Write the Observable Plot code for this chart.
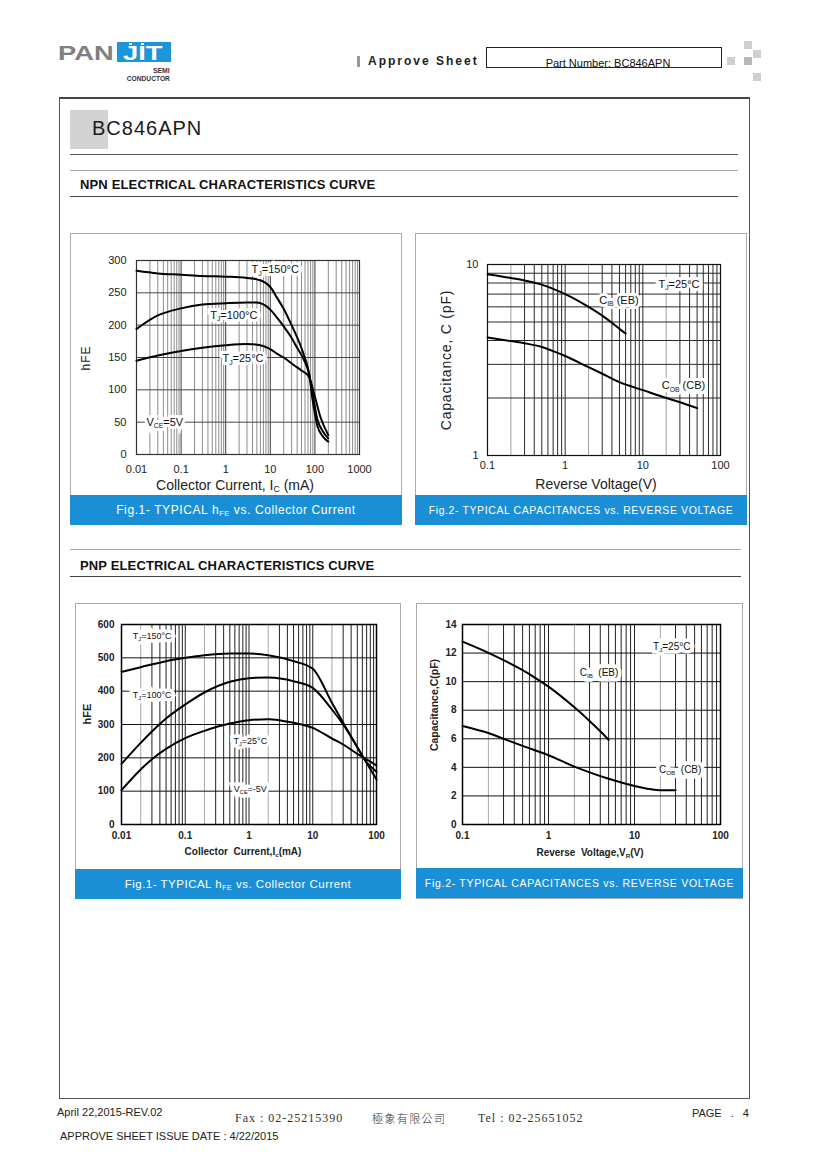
<!DOCTYPE html>
<html><head><meta charset="utf-8">
<script src="https://cdn.jsdelivr.net/npm/d3@7"></script>
<script src="https://cdn.jsdelivr.net/npm/@observablehq/plot@0.6"></script>
<style>
body{margin:0;background:#fff;}
#page{position:relative;width:820px;height:1160px;background:#fff;overflow:hidden;font-family:"Liberation Sans",Arial,sans-serif;color:#222;}
.abs{position:absolute;white-space:nowrap;}
.c{transform:translate(-50%,-50%);line-height:1;}
.r{transform:translate(-50%,-50%) rotate(-90deg);line-height:1;}
.hl{position:absolute;height:0;}
.panel{position:absolute;border:1.5px solid #a9a9a9;box-sizing:border-box;background:#fff;}
.band{position:absolute;background:#1b8fd6;color:#fff;display:flex;align-items:center;justify-content:center;white-space:nowrap;}
sub{font-size:62%;vertical-align:-0.25em;line-height:0;}
.sq{position:absolute;width:8px;height:8px;background:#cfcfcf;}
</style></head>
<body><div id="page">
  <!-- logo -->
  <div class="abs" style="left:58px;top:41px;font-size:21px;font-weight:bold;color:#808080;line-height:24px;transform:scaleX(1.3);transform-origin:0 0;">PAN</div>
  <div class="abs" style="left:117px;top:42px;width:54px;height:20px;background:#1b96d8;"></div>
  <div class="abs" style="left:123px;top:40.5px;font-size:19.5px;font-weight:bold;color:#fff;line-height:24px;transform:scaleX(1.4);transform-origin:0 0;">JIT</div>
  <div class="abs" style="left:129px;top:42.5px;width:3px;height:2.5px;background:#fff;"></div>
  <div class="abs" style="left:141px;top:42.5px;width:3px;height:2.5px;background:#fff;"></div>
  <div class="abs" style="right:650px;top:66px;font-size:8px;font-weight:bold;color:#333;line-height:10px;transform:scaleX(0.85);transform-origin:100% 0;">SEMI</div>
  <div class="abs" style="right:650px;top:74px;font-size:8px;font-weight:bold;color:#333;line-height:10px;transform:scaleX(0.83);transform-origin:100% 0;">CONDUCTOR</div>
  <!-- approve sheet -->
  <div class="abs" style="left:357px;top:56px;width:3px;height:11px;background:#9a9a9a;"></div>
  <div class="abs" style="left:368px;top:54px;font-size:12px;font-weight:bold;letter-spacing:2px;line-height:14px;color:#222;">Approve Sheet</div>
  <div class="abs" style="left:486px;top:47px;width:236px;height:21px;border:1px solid #222;box-sizing:border-box;"></div>
  <div class="abs c" style="left:608px;top:63px;font-size:11px;color:#111;">Part Number: BC846APN</div>
  <div class="sq" style="left:744px;top:41px;"></div>
  <div class="sq" style="left:727px;top:57px;"></div>
  <div class="sq" style="left:744px;top:57px;background:#b8b8b8;"></div>
  <div class="sq" style="left:753px;top:50px;"></div>
  <div class="sq" style="left:753px;top:73px;"></div>
  <!-- frame -->
  <div class="abs" style="left:59px;top:97px;width:691px;height:1002px;border:1.5px solid #555;border-top:2px solid #444;box-sizing:border-box;"></div>
  <div class="abs" style="left:70px;top:110px;width:38px;height:39px;background:#d3d3d3;"></div>
  <div class="abs" style="left:92px;top:116px;font-size:20px;letter-spacing:1px;color:#1a1a1a;line-height:24px;">BC846APN</div>
  <div class="hl" style="left:70px;top:154px;width:668px;border-top:1.5px solid #555;"></div>
  <div class="hl" style="left:70px;top:170px;width:668px;border-top:1.5px solid #aaa;"></div>
  <div class="abs" style="left:80px;top:177px;font-size:13px;font-weight:bold;letter-spacing:0.15px;line-height:15px;color:#111;">NPN ELECTRICAL CHARACTERISTICS CURVE</div>
  <div class="hl" style="left:70px;top:196px;width:668px;border-top:1.5px solid #444;"></div>
  <div class="hl" style="left:70px;top:549px;width:671px;border-top:1.5px solid #aaa;"></div>
  <div class="abs" style="left:80px;top:558px;font-size:13px;font-weight:bold;letter-spacing:0.15px;line-height:15px;color:#111;">PNP ELECTRICAL CHARACTERISTICS CURVE</div>
  <div class="hl" style="left:70px;top:576px;width:671px;border-top:1.5px solid #444;"></div>
  <!-- panels -->
  <div class="panel" style="left:70px;top:233px;width:332px;height:292px;"></div>
  <div class="band" style="left:70px;top:495px;width:332px;height:30px;font-size:12px;letter-spacing:0.6px;"><span>Fig.1- TYPICAL h<sub>FE</sub> vs. Collector Current</span></div>
  <div class="panel" style="left:415px;top:233px;width:332px;height:292px;"></div>
  <div class="band" style="left:415px;top:495px;width:332px;height:30px;font-size:10.5px;letter-spacing:0.6px;"><span>Fig.2- TYPICAL CAPACITANCES vs. REVERSE VOLTAGE</span></div>
  <div class="panel" style="left:75px;top:603px;width:326px;height:296px;"></div>
  <div class="band" style="left:75px;top:869px;width:326px;height:30px;font-size:11.5px;letter-spacing:0.5px;"><span>Fig.1- TYPICAL h<sub>FE</sub> vs. Collector Current</span></div>
  <div class="panel" style="left:416px;top:603px;width:327px;height:296px;"></div>
  <div class="band" style="left:416px;top:868px;width:327px;height:30px;font-size:10.5px;letter-spacing:0.7px;"><span>Fig.2- TYPICAL CAPACITANCES vs. REVERSE VOLTAGE</span></div>
  <!-- axis titles -->
  <div class="abs r" style="left:86px;top:358px;font-size:12px;letter-spacing:1px;">hFE</div>
  <div class="abs c" style="left:235px;top:485px;font-size:14px;">Collector Current, I<sub>C</sub> (mA)</div>
  <div class="abs r" style="left:446px;top:360px;font-size:14px;letter-spacing:0.8px;">Capacitance, C (pF)</div>
  <div class="abs c" style="left:596px;top:484px;font-size:14px;">Reverse Voltage(V)</div>
  <div class="abs r" style="left:87px;top:714px;font-size:11px;font-weight:bold;">hFE</div>
  <div class="abs c" style="left:243px;top:852px;font-size:10px;font-weight:bold;">Collector&nbsp; Current,I<sub>c</sub>(mA)</div>
  <div class="abs r" style="left:434px;top:705px;font-size:10.5px;font-weight:bold;">Capacitance,C(pF)</div>
  <div class="abs c" style="left:590px;top:853px;font-size:10px;font-weight:bold;">Reverse&nbsp; Voltage,V<sub>R</sub>(V)</div>
  <!-- footer -->
  <div class="abs" style="left:57px;top:1106px;font-size:11px;line-height:12px;color:#222;">April 22,2015-REV.02</div>
  <div class="abs" style="left:235px;top:1111px;font-size:12px;line-height:14px;font-family:'Liberation Serif',serif;letter-spacing:1px;color:#333;">Fax : 02-25215390</div>
  <div class="abs" style="left:372px;top:1111px;font-size:11px;line-height:14px;font-family:'Noto Sans CJK TC',sans-serif;letter-spacing:1.4px;color:#333;font-weight:300;">極象有限公司</div>
  <div class="abs" style="left:478px;top:1111px;font-size:12px;line-height:14px;font-family:'Liberation Serif',serif;letter-spacing:1px;color:#333;">Tel : 02-25651052</div>
  <div class="abs" style="right:71px;top:1107px;font-size:11px;line-height:12px;color:#222;word-spacing:6px;">PAGE . 4</div>
  <div class="abs" style="left:60px;top:1130px;font-size:11px;line-height:12px;color:#222;">APPROVE SHEET ISSUE DATE : 4/22/2015</div>
</div>
<script>
// ---------- data ----------
// NPN Fig.1: hFE vs collector current (mA), VCE = 5 V
const npnHfe150 = [[0.01,284],[0.03,280],[0.1,278],[0.3,276],[1,275],[3,273],[5,271],[8,265],[10,259],[14,243],[20,225],[30,200],[57,153],[74,125],[89,84],[113,45],[150,28],[200,20]];
const npnHfe100 = [[0.01,194],[0.03,215],[0.1,226],[0.3,232],[1,234],[3,235],[5,235],[7,232],[10,224],[14,212],[20,198],[29,182],[40,165],[57,146],[74,125],[89,94],[113,55],[150,36],[200,25]];
const npnHfe25  = [[0.01,145],[0.03,153],[0.1,160],[0.3,165],[1,169],[3,171],[6,169],[10,163],[14,156],[20,150],[34,138],[50,130],[74,120],[96,94],[136,56],[200,30]];
const npnHfeXTicks = [0.01,0.1,1,10,100,1000];
const npnHfeYTicks = [0,50,100,150,200,250,300];
const npnHfeNotes = [{x:12.9,y:286,t:"T_{J}=150°C"},{x:1.52,y:215,t:"T_{J}=100°C"},{x:2.44,y:148,t:"T_{J}=25°C"},{x:0.043,y:49.5,t:"V_{CE}=5V"}];

// NPN Fig.2: capacitance (pF) vs reverse voltage (V)
const npnCib = [[0.1,8.9],[0.2,8.5],[0.3,8.25],[0.5,7.85],[0.7,7.45],[1,7.0],[2,6.0],[3,5.4],[4,4.95],[5,4.6],[6,4.35]];
const npnCob = [[0.1,4.15],[0.2,3.97],[0.3,3.87],[0.5,3.7],[0.7,3.52],[1,3.32],[2,2.9],[3,2.68],[5,2.42],[10,2.2],[20,2.0],[30,1.9],[50,1.77]];
const npnCapXTicks = [0.1,1,10,100];
const npnCapYTicks = [1,10];
const npnCapNotes = [{x:29.2,y:7.87,t:"T_{J}=25°C"},{x:4.92,y:6.49,t:"C_{IB} (EB)"},{x:33.3,y:2.32,t:"C_{OB} (CB)"}];

// PNP Fig.1: hFE vs collector current (mA), VCE = -5 V
const pnpHfe150 = [[0.01,458],[0.02,472],[0.05,490],[0.1,500],[0.2,508],[0.5,513],[1,513],[2,508],[5,490],[10,467],[20,365],[30,305],[50,232],[65,195],[100,135]];
const pnpHfe100 = [[0.01,182],[0.02,245],[0.03,279],[0.05,318],[0.1,360],[0.2,396],[0.5,428],[1,439],[2,441],[5,430],[10,410],[20,345],[30,300],[50,232],[65,195],[100,158]];
const pnpHfe25  = [[0.01,103],[0.02,165],[0.03,196],[0.05,227],[0.1,259],[0.2,281],[0.5,303],[1,313],[2,316],[5,305],[10,290],[20,258],[30,240],[50,212],[65,199],[100,177]];
const pnpHfeXTicks = [0.01,0.1,1,10,100];
const pnpHfeYTicks = [0,100,200,300,400,500,600];
const pnpHfeNotes = [{x:0.0303,y:564,t:"T_{J}=150°C"},{x:0.0303,y:388,t:"T_{J}=100°C"},{x:1.05,y:250,t:"T_{J}=25°C"},{x:1.05,y:107,t:"V_{CE}=-5V"}];

// PNP Fig.2: capacitance (pF) vs reverse voltage (V)
const pnpCib = [[0.1,12.8],[0.2,12.02],[0.3,11.51],[0.5,10.8],[0.7,10.27],[1,9.65],[2,8.2],[3,7.25],[4,6.53],[5,5.93]];
const pnpCob = [[0.1,6.9],[0.2,6.4],[0.3,6.0],[0.5,5.5],[1,4.85],[2,4.05],[3,3.65],[5,3.2],[10,2.7],[15,2.48],[20,2.4],[30,2.4]];
const pnpCapXTicks = [0.1,1,10,100];
const pnpCapYTicks = [0,2,4,6,8,10,12,14];
const pnpCapNotes = [{x:27.1,y:12.46,t:"T_{J}=25°C"},{x:3.87,y:10.65,t:"C_{IB}  (EB)"},{x:34,y:3.81,t:"C_{OB}  (CB)"}];

// ---------- helpers ----------
function logGrid(lo, hi, mants) {
  const out = [];
  for (let e = Math.round(Math.log10(lo)); e < Math.round(Math.log10(hi)); e++)
    for (const m of mants) out.push(+(m * Math.pow(10, e)).toPrecision(3));
  return out;
}
const SVGNS = "http://www.w3.org/2000/svg";
function tsp(t) { const n = document.createElementNS(SVGNS, "tspan"); n.textContent = t; return n; }
function subify(root, fs) {
  const shift = +(fs * 0.22).toFixed(2);
  root.querySelectorAll("text, tspan").forEach(el => {
    if (el.children.length) return;
    const s = el.textContent;
    if (!s.includes("_{")) return;
    el.textContent = "";
    const re = /_\{([^}]*)\}/g; let last = 0, m, pending = false;
    while ((m = re.exec(s))) {
      if (m.index > last) { const a = tsp(s.slice(last, m.index)); if (pending) { a.setAttribute("dy", -shift); pending = false; } el.appendChild(a); }
      const sb = tsp(m[1]); sb.setAttribute("font-size", (fs * 0.62).toFixed(2)); sb.setAttribute("dy", shift);
      el.appendChild(sb); pending = true;
      last = re.lastIndex;
    }
    if (last < s.length) { const a = tsp(s.slice(last)); if (pending) a.setAttribute("dy", -shift); el.appendChild(a); }
  });
}
const fmt = d => String(d);

function makeChart(o) {
  const marks = [];
  for (const g of o.vgrid) marks.push(Plot.ruleX(g.values, {stroke: g.stroke, strokeWidth: g.w || 1}));
  for (const g of o.hgrid) marks.push(Plot.ruleY(g.values, {stroke: g.stroke, strokeWidth: g.w || 1}));
  marks.push(Plot.frame({stroke: o.frame, strokeWidth: o.frameW}));
  for (const d of o.lines) marks.push(Plot.line(d, {x: p => p[0], y: p => p[1], curve: "monotone-x", stroke: "#000", strokeWidth: o.lineW}));
  const txt = {x: "x", y: "y", text: "t", fontSize: o.noteSize, fontWeight: "normal", textAnchor: "middle", fontFamily: "Liberation Sans, Arial, sans-serif"};
  marks.push(Plot.text(o.notes, {...txt, fill: "white", stroke: "white", strokeWidth: o.halo, strokeLinejoin: "miter"}));
  marks.push(Plot.text(o.notes, {...txt, fill: "#111"}));
  const svg = Plot.plot({
    width: o.w, height: o.h,
    marginLeft: o.m[0], marginRight: o.m[1], marginTop: o.m[2], marginBottom: o.m[3],
    x: {type: "log", domain: o.xd, ticks: o.xt, tickFormat: fmt, tickSize: 0, tickPadding: o.xpad, label: null},
    y: {type: o.ytype, domain: o.yd, ticks: o.yt, tickFormat: fmt, tickSize: 0, tickPadding: o.ypad, label: null},
    style: {fontFamily: "Liberation Sans, Arial, sans-serif", fontSize: o.tick + "px", fontWeight: o.bold ? "bold" : "normal", color: "#222", background: "transparent", overflow: "visible"},
    marks
  });
  subify(svg, o.noteSize);
  svg.style.position = "absolute";
  svg.style.left = o.left + "px";
  svg.style.top = o.top + "px";
  document.getElementById("page").appendChild(svg);
}

// NPN Fig.1
makeChart({
  left: 72, top: 236, w: 328, h: 259, m: [64, 41, 24, 41],
  xd: [0.01, 1000], xt: npnHfeXTicks, xpad: 11,
  ytype: "linear", yd: [0, 300], yt: npnHfeYTicks, ypad: 10,
  tick: 11, bold: false,
  vgrid: [{values: logGrid(0.01, 1000, [2,3,4,5,6,7,8,9]), stroke: "#8c8c8c"}, {values: logGrid(0.01, 1000, [1]), stroke: "#3c3c3c"}],
  hgrid: [{values: [50,100,150,200,250], stroke: "#454545"}],
  frame: "#333", frameW: 1.2, lines: [npnHfe150, npnHfe100, npnHfe25], lineW: 2,
  notes: npnHfeNotes, noteSize: 11, halo: 6
});
// NPN Fig.2
makeChart({
  left: 417, top: 236, w: 328, h: 259, m: [70, 25, 28, 40],
  xd: [0.1, 100], xt: npnCapXTicks, xpad: 6,
  ytype: "log", yd: [1, 10], yt: npnCapYTicks, ypad: 9,
  tick: 11, bold: false,
  vgrid: [{values: logGrid(0.1, 100, [2]), stroke: "#a0a0a0"}, {values: logGrid(0.1, 100, [1,3,4,5,6,7,8,9]), stroke: "#2a2a2a"}],
  hgrid: [{values: [2,3,4,5,6,7,8,9], stroke: "#2a2a2a"}],
  frame: "#111", frameW: 1.2, lines: [npnCib, npnCob], lineW: 2,
  notes: npnCapNotes, noteSize: 11, halo: 6
});
// PNP Fig.1
makeChart({
  left: 77, top: 606, w: 322, h: 263, m: [44, 23, 18, 45],
  xd: [0.01, 100], xt: pnpHfeXTicks, xpad: 7,
  ytype: "linear", yd: [0, 600], yt: pnpHfeYTicks, ypad: 7,
  tick: 10, bold: true,
  vgrid: [{values: logGrid(0.01, 100, [2]), stroke: "#a8a8a8"}, {values: logGrid(0.01, 100, [1,3,4,5,6,7,8,9]), stroke: "#222"}],
  hgrid: [{values: [100,200,300,400,500], stroke: "#111"}],
  frame: "#000", frameW: 1.5, lines: [pnpHfe150, pnpHfe100, pnpHfe25], lineW: 2,
  notes: pnpHfeNotes, noteSize: 9, halo: 7
});
// PNP Fig.2
makeChart({
  left: 418, top: 606, w: 323, h: 262, m: [44, 21, 18, 44],
  xd: [0.1, 100], xt: pnpCapXTicks, xpad: 7,
  ytype: "linear", yd: [0, 14], yt: pnpCapYTicks, ypad: 6,
  tick: 10, bold: true,
  vgrid: [{values: logGrid(0.1, 100, [2]), stroke: "#a8a8a8"}, {values: logGrid(0.1, 100, [1,3,4,5,6,7,8,9]), stroke: "#222"}],
  hgrid: [{values: [2,4,6,8,10,12], stroke: "#111"}],
  frame: "#000", frameW: 1.5, lines: [pnpCib, pnpCob], lineW: 2,
  notes: pnpCapNotes, noteSize: 10, halo: 7
});
</script>
</body></html>
